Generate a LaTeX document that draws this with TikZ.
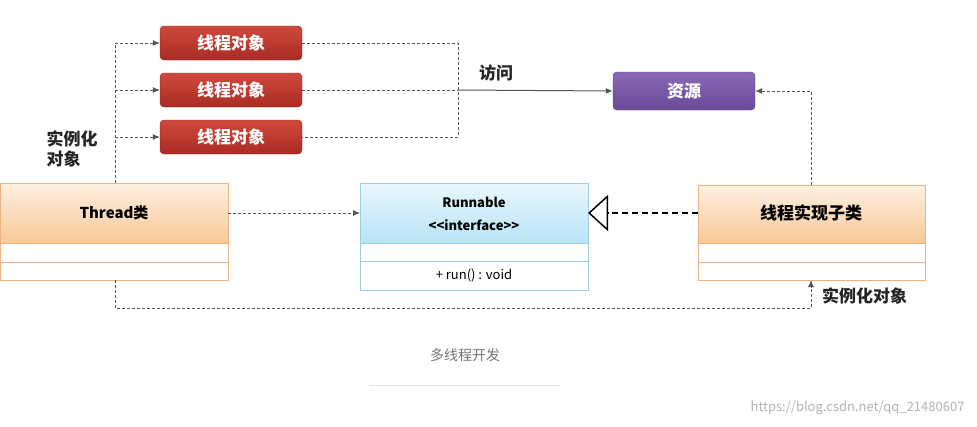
\documentclass[tikz,border=0pt]{standalone}
\usepackage{fontspec}
\setmainfont{Noto Sans CJK SC}
\usetikzlibrary{arrows.meta,shadings}
\definecolor{redA}{HTML}{D0493C}\definecolor{redB}{HTML}{A82C24}
\definecolor{purA}{HTML}{8A68B8}\definecolor{purB}{HTML}{6A4A98}
\definecolor{orA}{HTML}{FDF0E2}\definecolor{orB}{HTML}{F8C896}\definecolor{orL}{HTML}{EFB383}
\definecolor{blA}{HTML}{EAF7FD}\definecolor{blB}{HTML}{B8E3F7}\definecolor{blL}{HTML}{9CCDE5}
\definecolor{dgrey}{HTML}{555555}
\begin{document}
\begin{tikzpicture}[x=1pt,y=-1pt,
 obj/.style={rounded corners=4pt,draw=redB!80!black,top color=redA,bottom color=redB,text=white,minimum width=142pt,minimum height=34pt,font=\bfseries\fontsize{17}{17}\selectfont,inner sep=0pt},
 res/.style={obj,draw=purB!80!black,top color=purA,bottom color=purB,minimum height=38pt},
 dl/.style={draw=dgrey,densely dashed,line width=0.8pt},
 arr/.style={dl,-{Latex[length=7pt,width=6pt]}},
 lbl/.style={font=\bfseries\fontsize{17}{20}\selectfont,text=black!85,align=left,inner sep=0pt}]
\useasboundingbox (0,0) rectangle (977,426);
% red boxes
\node[obj] (o1) at (231,43) {线程对象};
\node[obj] (o2) at (231,90) {线程对象};
\node[obj] (o3) at (231,137) {线程对象};
\node[res] (r) at (684,91) {资源};
% Thread class
\shade[top color=orA,bottom color=orB] (0,183) rectangle (228,243);
\draw[orL,line width=1pt] (0,183) rectangle (228,280) (0,243)--(228,243) (0,262)--(228,262);
\node[font=\bfseries\fontsize{15}{15}\selectfont] (t) at (114,213) {Thread类};
\coordinate (tl) at (115,183); \coordinate (tr) at (228,213); \coordinate (tb) at (115,280);
% Runnable
\shade[top color=blA,bottom color=blB] (360,183) rectangle (588,243);
\draw[blL,line width=1pt] (360,183) rectangle (588,290) (360,243)--(588,243) (360,261)--(588,261);
\node[font=\bfseries\fontsize{13}{23}\selectfont,align=center] (rn) at (474,214) {Runnable\\{<}{<}interface{>}{>}};
\node[font=\fontsize{13}{13}\selectfont] (run) at (474,275) {+ run() : void};
\coordinate (rr) at (588,213);
% subclass
\shade[top color=orA,bottom color=orB] (698,185) rectangle (925,243);
\draw[orL,line width=1pt] (698,185) rectangle (925,280) (698,243)--(925,243) (698,262)--(925,262);
\node[font=\bfseries\fontsize{17}{17}\selectfont] (s) at (811,213) {线程实现子类};
\coordinate (sl) at (698,213); \coordinate (st) at (811,185); \coordinate (sb) at (811,280);
% connectors
\draw[dl] (tl) -- (115,43);
\draw[arr] (115,43) -- (o1.west);
\draw[arr] (115,90) -- (o2.west);
\draw[arr] (115,137) -- (o3.west);
\draw[dl] (o1.east) -- (458,43) -- (458,137) -- (o3.east);
\draw[dl] (o2.east) -- (458,90);
\draw[arr,solid,line width=1pt] (458,90) -- (r.west);
\node[lbl] (fw) at (496,73) {访问};
\draw[arr] (st) |- (r.east);
\draw[arr] (tr) -- (360,213);
\draw[line width=2pt,dash pattern=on 6pt off 4pt,-{Triangle[open,length=20pt,width=36pt,line width=1.5pt]}] (sl) -- (rr);
\draw[arr] (tb) -- (115,308) -| (sb);
\node[lbl] (l1) at (72,149) {实例化\\对象};
\node[lbl,anchor=west] (l2) at (822,296) {实例化对象};
% caption
\node[text=black!55,font=\fontsize{14}{14}\selectfont] (cap) at (465,355) {多线程开发};
\draw[black!12] (370,385) -- (560,385);
\node[text=black!30,font=\fontsize{13}{13}\selectfont,anchor=east] (wm) at (968,408) {https://blog.csdn.net/qq\_21480607};
\end{tikzpicture}
\end{document}
